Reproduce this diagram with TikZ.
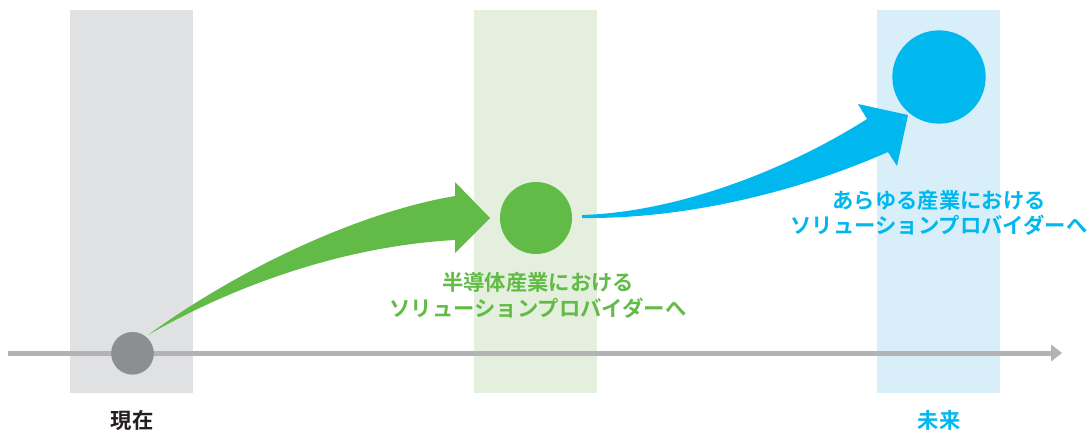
\documentclass[tikz,border=0pt]{standalone}
\usepackage{fontspec}
\newfontfamily\jp{Noto Sans CJK JP}[BoldFont={Noto Sans CJK JP Bold}]
\definecolor{bandgray}{HTML}{E0E1E3}
\definecolor{bandgreen}{HTML}{E4F0DD}
\definecolor{bandblue}{HTML}{D8EFFA}
\definecolor{axisgray}{HTML}{B3B3B5}
\definecolor{dotgray}{HTML}{8D8E92}
\definecolor{mygreen}{HTML}{62BB46}
\definecolor{myblue}{HTML}{00B7EE}
\definecolor{textblack}{HTML}{231F20}
\tikzset{
  band/.style={fill=#1, draw=none},
  dot/.style={circle, fill=#1, draw=none, inner sep=0pt},
  lbl/.style={font=\jp\bfseries\fontsize{16}{19}\selectfont, text=#1, align=center, inner sep=0pt},
}
\begin{document}
\begin{tikzpicture}[x=0.75pt,y=-0.75pt]
\useasboundingbox (0,0) rectangle (1087,430);
% bands
\fill[bandgray]  (70,10) rectangle (193,393);
\fill[bandgreen] (474,10) rectangle (597,393);
\fill[bandblue]  (877,10) rectangle (1000,393);
% axis
\coordinate (axs) at (8,353);
\coordinate (axe) at (1052,353);
\draw[axisgray, line width=3.75pt] (axs) -- (axe);
\fill[axisgray] (1051,344.5) -- (1062,353) -- (1051,361.5) -- cycle;
% green arrow
\fill[mygreen] (148,335) .. controls (240,268) and (360,212) .. (455,196)
  -- (455,182) -- (490,218) -- (455,253) -- (455,240)
  .. controls (345,246) and (235,285) .. (148,335) -- cycle;
% blue arrow
\fill[myblue] (582,215) .. controls (680,212) and (790,168) .. (867,119)
  -- (858,104) -- (908,115) -- (897,166) -- (888,152)
  .. controls (790,195) and (680,219) .. (582,218) -- cycle;
% dots
\node[dot=dotgray, minimum size=32pt] (now) at (132.5,353.3) {};
\node[dot=mygreen, minimum size=54pt] (mid) at (536,218) {};
\node[dot=myblue, minimum size=70pt] (fut) at (939,77) {};
% labels
\node[lbl=mygreen] (midlbl) at (538,295.5) {半導体産業における\\ソリューションプロバイダーへ};
\node[lbl=myblue] (futlbl) at (939,213) {あらゆる産業における\\ソリューションプロバイダーへ};
\node[lbl=textblack] (nowlbl) at (132,420) {現在};
\node[lbl=myblue] (futlbl2) at (939,420) {未来};
\end{tikzpicture}
\end{document}
